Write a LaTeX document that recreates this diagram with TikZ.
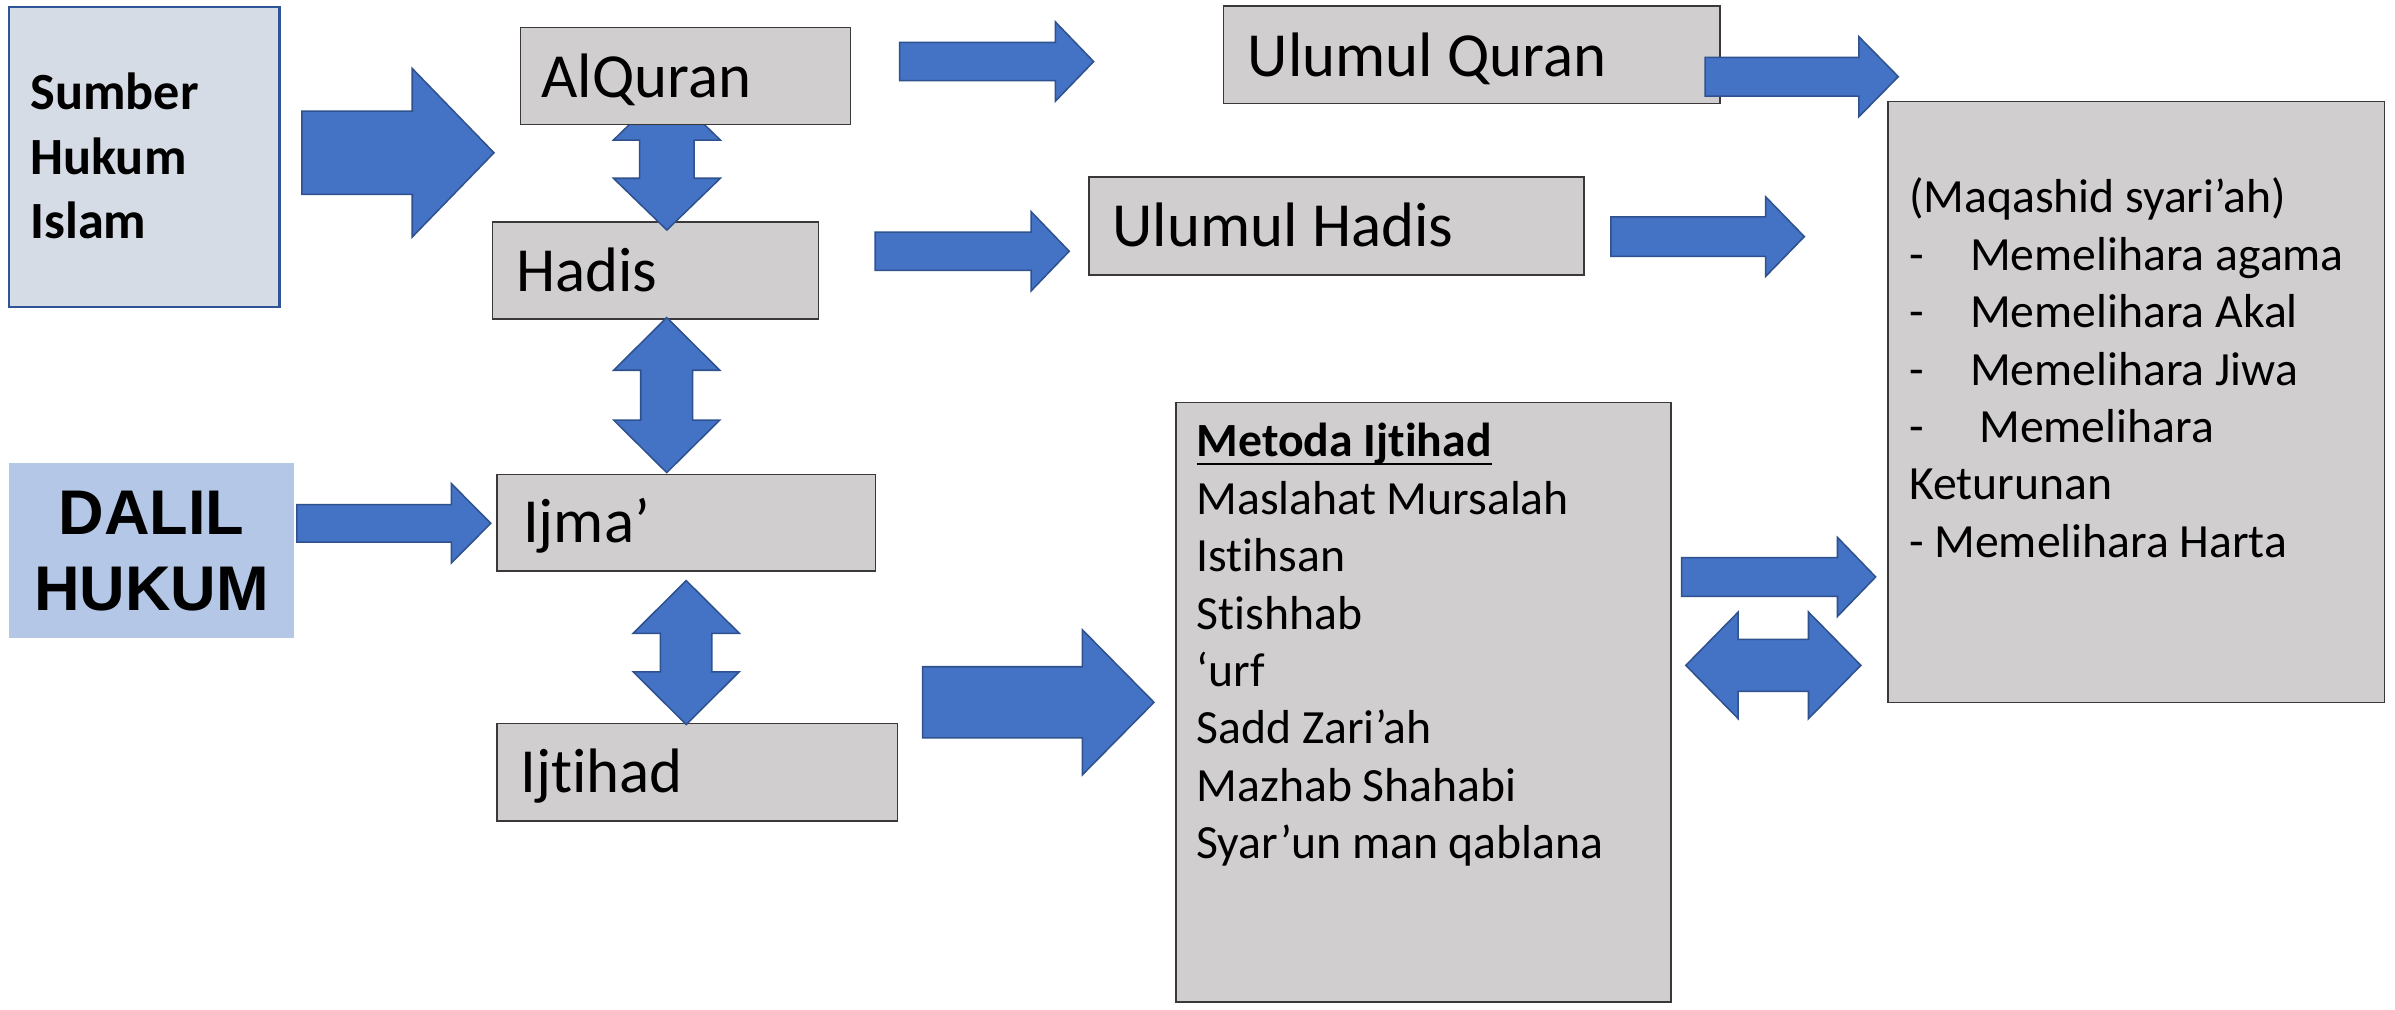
\documentclass[tikz,border=0pt]{standalone}
\usepackage{fontspec}
\setmainfont[Ligatures=NoCommon]{Carlito}
\newfontfamily\arialfont{Liberation Sans}
\definecolor{arrowfill}{HTML}{4472C4}
\definecolor{arrowline}{HTML}{2F528F}
\definecolor{grayfill}{HTML}{D0CECE}
\definecolor{grayline}{HTML}{3A3838}
\definecolor{srcfill}{HTML}{D6DCE5}
\definecolor{srcline}{HTML}{2F5597}
\definecolor{dalilfill}{HTML}{B4C7E7}
\newcommand\myul[1]{\leavevmode\setbox0\hbox{#1}\rlap{\vrule height -1.95pt depth 2.55pt width \wd0}\box0}
% right block arrow: x0 xh xt yc hs hh
\newcommand\blkR[6]{\filldraw[blk] (#1,{#4-#5}) -- (#2,{#4-#5}) -- (#2,{#4-#6}) -- (#3,#4) -- (#2,{#4+#6}) -- (#2,{#4+#5}) -- (#1,{#4+#5}) -- cycle;}
% vertical double arrow: xc ytip1 yb1 yb2 ytip2 hs hh
\newcommand\blkUD[7]{\filldraw[blk] (#1,#2) -- ({#1+#7},#3) -- ({#1+#6},#3) -- ({#1+#6},#4) -- ({#1+#7},#4) -- (#1,#5) -- ({#1-#7},#4) -- ({#1-#6},#4) -- ({#1-#6},#3) -- ({#1-#7},#3) -- cycle;}
% horizontal double arrow: yc xtip1 xb1 xb2 xtip2 hs hh
\newcommand\blkLR[7]{\filldraw[blk] (#2,#1) -- (#3,{#1-#7}) -- (#3,{#1-#6}) -- (#4,{#1-#6}) -- (#4,{#1-#7}) -- (#5,#1) -- (#4,{#1+#7}) -- (#4,{#1+#6}) -- (#3,{#1+#6}) -- (#3,{#1+#7}) -- cycle;}
\begin{document}
\begin{tikzpicture}[x=0.45pt,y=-0.45pt,
  blk/.style={fill=arrowfill,draw=arrowline,line width=0.45pt,line join=miter},
  graybox/.style={fill=grayfill,draw=grayline,line width=0.45pt},
  boxtext/.style={anchor=base west,inner sep=0pt,font=\fontsize{18.5}{22}\selectfont},
  listtext/.style={anchor=base west,inner sep=0pt,font=\fontsize{14.05}{16.92}\selectfont}]
\useasboundingbox (0,0) rectangle (1568,661);
\fill[white] (0,0) rectangle (1568,661);
% boxes
\path[fill=srcfill,draw=srcline,line width=0.7pt] (5.7,4.4) rectangle (183,200.8);
\coordinate (sumber) at (94.3,102.6);
\fill[dalilfill] (6,303.2) rectangle (192.4,417.6);
\coordinate (dalil) at (99.2,360.4);
\path[graybox] (322.3,145.5) rectangle (536,208.9);
\coordinate (hadis) at (429,177);
\path[graybox] (325.3,310.5) rectangle (573.2,373.7);
\coordinate (ijma) at (449,342);
\path[graybox] (325.3,473.6) rectangle (587.5,537.5);
\coordinate (ijtihad) at (456,505);
\path[graybox] (801,4) rectangle (1126,67.6);
\coordinate (uq) at (963,36);
\path[graybox] (713,116) rectangle (1037,180);
\coordinate (uh) at (875,148);
\path[graybox] (770,263.5) rectangle (1094,656);
\coordinate (metoda) at (932,460);
\path[graybox] (1236,66.5) rectangle (1561,460);
\coordinate (maqashid) at (1398,263);
% arrows
\blkR{197.7}{269.9}{323.4}{100}{27.25}{55.15}
\blkR{589}{691}{716}{40.3}{12.55}{25.9}
\blkR{1116.3}{1217}{1242.8}{50.2}{12.7}{26.2}
\blkR{573}{675}{700}{164.5}{12.5}{26}
\blkR{1054.6}{1156}{1181.3}{154.9}{12.95}{26}
\blkR{194.4}{295.5}{321.3}{342.6}{12.3}{26}
\blkR{604}{708.6}{755.5}{459.8}{23.3}{47.5}
\blkR{1101}{1203}{1228}{377.7}{12.7}{25.85}
\blkUD{436.6}{57.7}{91.7}{116.7}{150.6}{17.9}{35}
\blkUD{436.5}{207.9}{242.4}{275}{309.4}{17}{34.75}
\blkUD{449.25}{380.1}{414.6}{439.8}{474.3}{16.85}{34.75}
\blkLR{435.6}{1103.7}{1138}{1184}{1218.3}{17}{34.9}
% AlQuran box on top of the arrow head
\path[graybox] (340.7,18.1) rectangle (556.8,81.4);
\coordinate (alquran) at (448.7,49.7);
% texts
\node[anchor=base west,inner sep=0pt,font=\fontsize{15.4}{18.9}\selectfont\bfseries] (sumbert) at (19.5,72)
  {\parbox[t]{70pt}{\raggedright Sumber\\Hukum\\Islam}};
\node[anchor=base,inner sep=0pt,font=\arialfont\fontsize{18.6}{22.5}\selectfont\bfseries] (dalilt) at (99.2,350)
  {\parbox[t]{80pt}{\centering DALIL\\HUKUM}};
\node[boxtext] (alqurant) at (354,63.7) {AlQuran};
\node[boxtext] (hadist) at (337.4,191) {Hadis};
\node[boxtext] (ijmat) at (342,354.9) {Ijma’};
\node[boxtext] (ijtihadt) at (340.3,519) {Ijtihad};
\node[boxtext] (uqt) at (816.5,49.8) {Ulumul Quran};
\node[boxtext] (uht) at (728,161.5) {Ulumul Hadis};
\node[listtext] (metodat) at (783,299)
  {\parbox[t]{140pt}{\raggedright \myul{\bfseries Metoda Ijtihad}\\Maslahat Mursalah\\Istihsan\\Stishhab\\‘urf\\Sadd Zari’ah\\Mazhab Shahabi\\Syar’un man qablana}};
\node[listtext] (maqashidt) at (1249.4,139.3)
  {\parbox[t]{140pt}{\raggedright (Maqashid syari’ah)\\\makebox[18pt][l]{-}Memelihara agama\\\makebox[18pt][l]{-}Memelihara Akal\\\makebox[18pt][l]{-}Memelihara Jiwa\\\makebox[20.7pt][l]{-}Memelihara\\Keturunan\\- Memelihara Harta}};
\end{tikzpicture}
\end{document}
